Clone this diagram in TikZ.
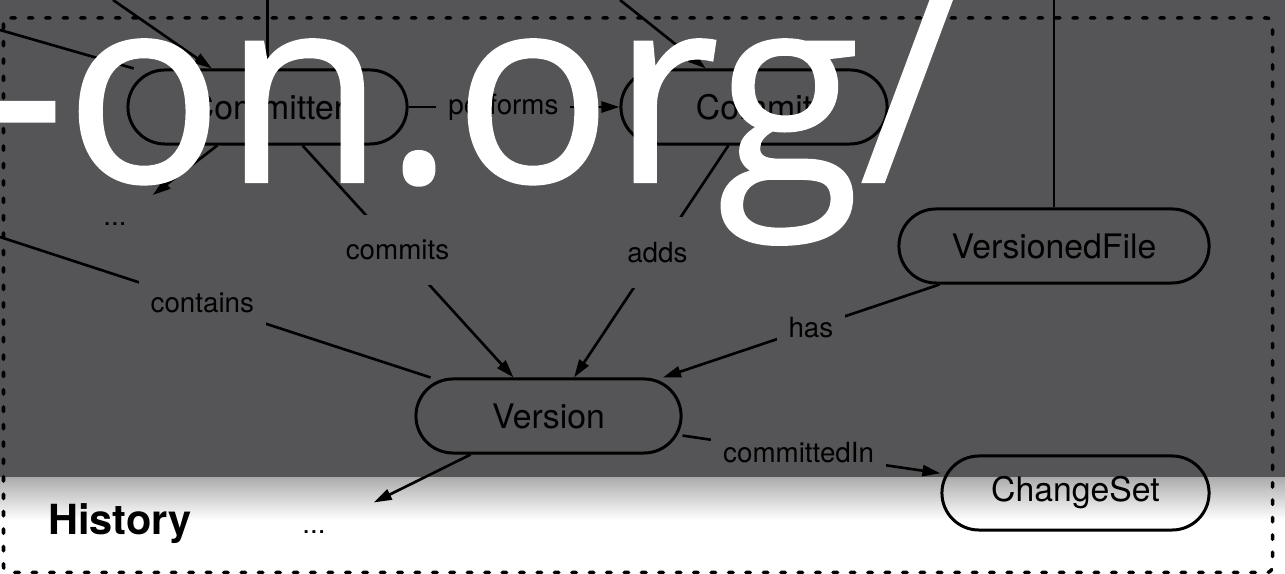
\documentclass[tikz,border=0pt]{standalone}
\usepackage{fontspec}
\setmainfont{TeX Gyre Heros}
\newfontfamily\wmfont[FakeBold=0.8]{Open Sans}
\usetikzlibrary{arrows.meta}

\definecolor{bgdark}{RGB}{85,85,88}

\tikzset{
	concept/.style={draw, line width=0.85pt, rounded corners=0.37cm, minimum height=0.74cm, font=\fontsize{9.6}{11}\selectfont},
	rel/.style={fill=bgdark, inner xsep=0.12cm, inner ysep=0.25cm, font=\fontsize{7.9}{9}\selectfont},
	stub/.style={inner sep=0pt, minimum height=0.6cm, font=\fontsize{7.9}{9}\selectfont},
	link/.style={line width=0.75pt, -{Triangle[length=0.18cm,width=0.11cm]}},
	plain/.style={line width=0.75pt},
}

\begin{document}
\begin{tikzpicture}[x=0.01cm,y=-0.01cm]

		\useasboundingbox (0,0) rectangle (1285,574);
		\fill[bgdark] (0,0) rectangle (1285,478);
		\shade[top color=black!32, bottom color=white] (0,478) rectangle (1285,520);

		% frame of the History part
		\draw[line width=1pt, line cap=round, dash pattern=on 0.045cm off 0.129cm, rounded corners=0.06cm] (3.5,18) rectangle (1272.5,572.5);

		\coordinate (inA) at (113,0);
		\coordinate (inB) at (0,30);
		\coordinate (inC) at (267.5,0);
		\coordinate (inD) at (620,0);
		\coordinate (inE) at (1054,0);
		\coordinate (inF) at (0,237);

		\node[concept, minimum width=2.79cm] (committer) at (267.5,107) {Committer};
		\node[concept, minimum width=2.66cm] (commit) at (754,107) {Commit};
		\node[concept, minimum width=3.10cm] (versionedfile) at (1054,246) {VersionedFile};
		\node[concept, minimum width=2.65cm] (version) at (548.5,416) {Version};
		\node[concept, minimum width=2.67cm] (changeset) at (1075.5,493) {ChangeSet};

		\node[stub, minimum width=0.74cm] (dotsA) at (115,224) {...};
		\node[stub, minimum width=1.18cm] (dotsB) at (314,532) {...};
		\node[font=\bfseries\fontsize{11.8}{14}\selectfont, anchor=base] (history) at (120,535) {History};

		\draw[link] (inA) -- (committer);
		\draw[plain] (inB) -- (committer);
		\draw[plain] (inC) -- (committer);
		\draw[link] (inD) -- (commit);
		\draw[plain] (inE) -- (versionedfile);
		\draw[link] (committer) -- (dotsA);

		\draw[link] (committer) -- node[rel, pos=0.45] {performs} (commit);
		\draw[link] (committer) -- node[rel, pos=0.45] {commits} (version);
		\draw[link] (commit) -- node[rel, pos=0.46] {adds} (version);
		\draw[plain] (inF) -- node[rel, pos=0.47] {contains} (version);
		\draw[link] (versionedfile) -- node[rel, pos=0.465] {has} (version);
		\draw[link] (version) -- node[rel, inner ysep=0.08cm, pos=0.45] {committedIn} (changeset);
		\draw[link] (version) -- (dotsB);

		\node[font=\wmfont\fontsize{74.5}{80}\selectfont, text=white, anchor=base west, inner sep=0pt] (mark) at (-20,182) {-on.org/};

\end{tikzpicture}
\end{document}
